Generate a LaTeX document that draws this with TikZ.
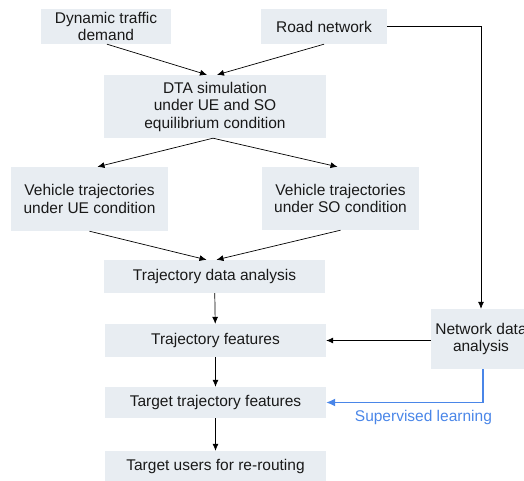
\documentclass[tikz,border=0pt]{standalone}
\usepackage{fontspec}
\setmainfont{Liberation Sans}
\usetikzlibrary{arrows.meta}
\definecolor{boxfill}{HTML}{E8EDF2}
\definecolor{learnblue}{HTML}{4A86E8}
\begin{document}
\begin{tikzpicture}[x=1pt,y=-1pt,
  box/.style={fill=boxfill, rectangle, align=center, inner sep=0pt, text=black!90, font=\fontsize{15.5}{17.5}\selectfont},
  arr/.style={-{Latex[length=7pt,width=6pt]}, line width=0.7pt},
  learnarr/.style={-{Latex[length=9pt,width=8pt]}, line width=1.3pt, draw=learnblue}]
 \useasboundingbox (0,0) rectangle (524,481);
 \clip (0,0) rectangle (524,481);

 \node[box, minimum height=35pt, minimum width=130pt] (demand) at (106,26.5) {Dynamic traffic\\demand};
 \node[box, minimum height=35pt, minimum width=126pt] (road) at (324,26.5) {Road network};
 \node[box, minimum height=63pt, minimum width=222pt] (dta) at (215,106.5) {DTA simulation\\under UE and SO\\equilibrium condition};

 \node[box, minimum height=64pt, minimum width=157pt] (ue) at (89.5,199) {Vehicle trajectories\\under UE condition};
 \node[box, minimum height=63pt, minimum width=157pt] (so) at (340.5,198.5) {Vehicle trajectories\\under SO condition};

 \node[box, minimum height=33pt, minimum width=221pt] (tda) at (214.5,276.5) {Trajectory data analysis};
 \node[box, minimum height=33pt, minimum width=221pt] (tf) at (215.5,340.5) {Trajectory features};
 \node[box, minimum height=31pt, minimum width=221pt] (ttf) at (215.5,402.5) {Target trajectory features};
 \node[box, minimum height=31pt, minimum width=221pt] (users) at (215.5,466.5) {Target users for re-routing};

 \node[box, minimum height=60pt, minimum width=100pt] (nda) at (481,339) {Network data\\analysis};

 \draw[arr] ([xshift=1pt]demand.south) -- ([xshift=-8pt]dta.north);
 \draw[arr] (road.south) -- ([xshift=2pt]dta.north);
 \draw[arr] ([xshift=-2pt]dta.south) -- ([xshift=8pt]ue.north);
 \draw[arr] ([xshift=-2pt]dta.south) -- ([xshift=-3pt]so.north);
 \draw[arr] (ue.south) -- ([xshift=-8pt]tda.north);
 \draw[arr] (so.south) -- ([xshift=2pt]tda.north);
 \draw[arr] (road.east) -| (nda.north);
 \draw[arr] (tda) -- (tf);
 \draw[arr] (nda.west |- tf.east) -- (tf.east);
 \draw[arr] (tf) -- (ttf);
 \draw[arr] (ttf) -- (users);
 \draw[learnarr] ([xshift=2pt]nda.south) |- (ttf.east)
   node[pos=0.69, below=4pt, text=learnblue, font=\fontsize{15.5}{17.5}\selectfont] {Supervised learning};
\end{tikzpicture}
\end{document}
